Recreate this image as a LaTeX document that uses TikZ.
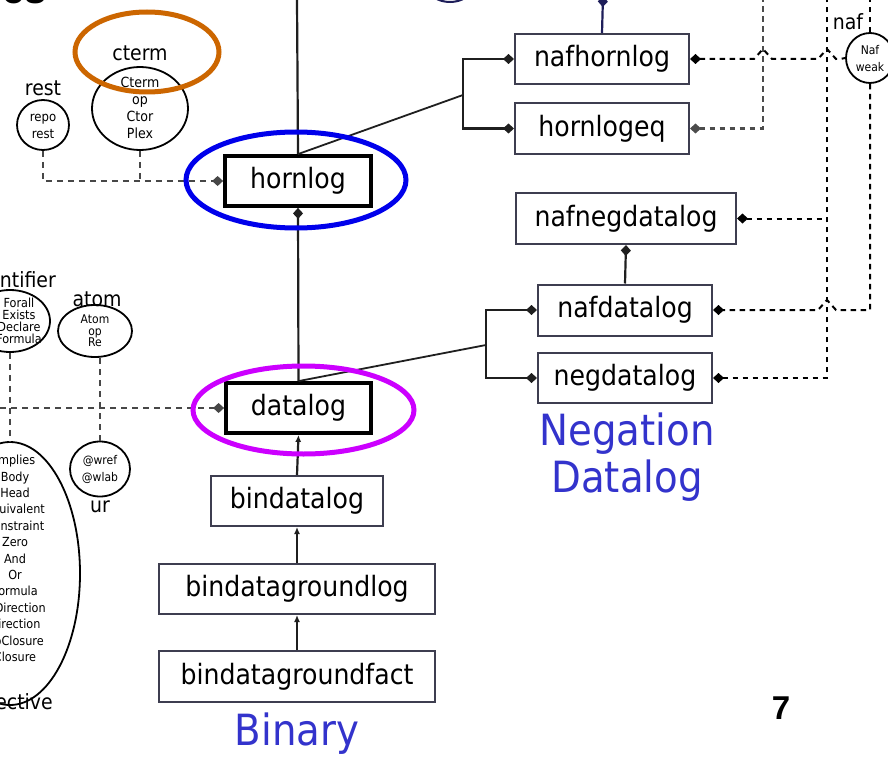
\documentclass[tikz,border=0pt]{standalone}
\usepackage{fontspec}
\setmainfont{DejaVu Sans}[FakeStretch=0.9]
\newfontfamily\headfont{Liberation Sans}
\usetikzlibrary{arrows.meta,shapes.geometric}

\definecolor{boxgray}{RGB}{62,62,80}
\definecolor{hlblue}{RGB}{0,0,235}
\definecolor{hlmagenta}{RGB}{204,0,255}
\definecolor{hlorange}{RGB}{204,102,0}
\definecolor{groupblue}{RGB}{51,51,204}
\definecolor{navy}{RGB}{30,30,90}

\tikzset{
  dia/.tip={Diamond[length=11pt,width=10pt]},
  cls/.style={rectangle, draw=boxgray, line width=2pt, fill=white, inner sep=0pt,
              minimum height=50pt, font=\fontsize{28}{30}\selectfont},
  keycls/.style={cls, draw=black, line width=3.8pt},
  bubble/.style={ellipse, draw=black, line width=1.8pt, inner sep=0pt},
  bubtext/.style={align=center, inner sep=0pt, font=\fontsize{13}{17}\selectfont},
  tag/.style={inner sep=0pt, font=\fontsize{21}{24}\selectfont},
  solidlink/.style={draw=black!88, line width=2.2pt},
  leftdash/.style={draw=black!72, line width=2.4pt, dash pattern=on 6pt off 5pt},
  rightdash/.style={draw=black, line width=2pt, dash pattern=on 5.5pt off 4.5pt},
  hl/.style={ellipse, draw, line width=5pt, inner sep=0pt},
  grouplabel/.style={text=groupblue, align=center, inner sep=0pt,
                     font=\fontsize{43}{47}\selectfont},
}

\begin{document}
\begin{tikzpicture}[x=1pt,y=-1pt]
\fill[white] (0,0) rectangle (888,757);
\useasboundingbox (0,0) rectangle (888,757);

% heading, cut by the page edge
\node[anchor=base east, inner sep=0pt, font=\headfont\bfseries\fontsize{40}{42}\selectfont] (title) at (47,4) {es};

% ---- class boxes ----
\node[cls, minimum width=174pt] (nafhornlog) at (602,59) {nafhornlog};
\node[cls, minimum width=174pt, minimum height=51pt] (hornlogeq) at (602,128.5) {hornlogeq};
\node[keycls, minimum width=146pt] (hornlog) at (298,181) {hornlog};
\node[cls, minimum width=220pt, minimum height=51pt] (nafnegdatalog) at (626,218.5) {nafnegdatalog};
\node[cls, minimum width=174pt, minimum height=51pt] (nafdatalog) at (625,310) {nafdatalog};
\node[cls, minimum width=174pt] (negdatalog) at (625,378) {negdatalog};
\node[keycls, minimum width=145pt] (datalog) at (298.5,408) {datalog};
\node[cls, minimum width=172pt] (bindatalog) at (297,501) {bindatalog};
\node[cls, minimum width=276pt] (bindatagroundlog) at (297,589) {bindatagroundlog};
\node[cls, minimum width=276pt, minimum height=51pt] (bindatagroundfact) at (297,676.5) {bindatagroundfact};

% ---- bubbles on the left ----
\node[bubble, minimum width=52pt, minimum height=50pt] (rest) at (43,125) {};
\node[bubtext] (resttext) at (43,126) {repo\\rest};
\node[tag] (restlabel) at (43,88) {rest};

\node[bubble, minimum width=96pt, minimum height=83pt] (cterm) at (140,108.5) {};
\node[bubtext, font=\fontsize{14}{17}\selectfont] (ctermtext) at (140,108) {Cterm\\op\\Ctor\\Plex};
\node[tag] (ctermlabel) at (140,53) {cterm};

\node[bubble, minimum width=80pt, minimum height=62pt] (quant) at (10,321) {};
\node[bubtext, font=\fontsize{12.5}{12}\selectfont] (quanttext) at (19,321) {Forall\\Exists\\Declare\\Formula};
\node[tag, anchor=east] (quantlabel) at (56,281) {Quantifier};

\node[bubble, minimum width=74pt, minimum height=52pt] (atom) at (95,331) {};
\node[bubtext, font=\fontsize{12}{11.5}\selectfont] (atomtext) at (95,331) {Atom\\op\\Re};
\node[tag] (atomlabel) at (97,299) {atom};

\node[bubble, minimum width=60pt, minimum height=55pt] (uri) at (100,469) {};
\node[bubtext, font=\fontsize{12}{17}\selectfont] (uritext) at (100,469) {@wref\\@wlab};
\node[tag] (urilabel) at (100,507) {ur};

\node[bubble, minimum width=140pt, minimum height=263pt] (conn) at (10,573.5) {};
\node[bubtext, font=\fontsize{12.5}{16.4}\selectfont] (conntext) at (15,558.5)
  {Implies\\Body\\Head\\Equivalent\\Constraint\\Zero\\And\\Or\\Formula\\InDirection\\Direction\\NoClosure\\Closure};
\node[tag, anchor=east] (connlabel) at (53,702) {Connective};

% ---- bubble on the right ----
\node[bubble, minimum width=48pt, minimum height=50pt] (naf) at (870,58) {};
\node[bubtext, font=\fontsize{12}{17}\selectfont] (naftext) at (870,59) {Naf\\weak};
\node[tag] (naflabel) at (848,22) {naf};

% ---- partial shapes at the top edge ----
\node[ellipse, draw=navy, line width=2pt, minimum width=44pt, minimum height=30pt] (topell) at (450,-13) {};
\coordinate (topdia) at (603,-4);
\coordinate (ttop) at (297,0);
\coordinate (t1) at (763,0);
\coordinate (t2) at (827,0);
\coordinate (lft) at (0,408);
\coordinate (hb) at (463,95);
\coordinate (nb) at (486,345);

% ---- solid connectors ----
\draw[solidlink, draw=navy, {Diamond[length=11pt,width=10pt]}-] (topdia) -- (nafhornlog.north);
\draw[solidlink] (ttop) -- (hornlog.north);
\draw[solidlink, line width=1.8pt] (hornlog.north) -- (hb);
\draw[solidlink, dia-dia] (nafhornlog.west) -| (hb) |- (hornlogeq.west);
\draw[solidlink, dia-] (hornlog.south) -- (datalog.north);
\draw[solidlink, line width=1.8pt] (datalog.north) -- (nb);
\draw[solidlink, dia-dia] (nafdatalog.west) -| (nb) |- (negdatalog.west);
\draw[solidlink, -dia] (nafdatalog.north) -- (nafnegdatalog.south);
\draw[solidlink, -{Latex[length=7pt,width=6pt]}] (bindatalog.north) -- (datalog.south);
\draw[solidlink, -{Latex[length=7pt,width=6pt]}] (bindatagroundlog.north) -- (bindatalog.south);
\draw[solidlink, -{Latex[length=7pt,width=6pt]}] (bindatagroundfact.north) -- (bindatagroundlog.south);

% ---- dashed connectors, left ----
\draw[leftdash, -dia] (rest.south) |- (hornlog.west);
\draw[leftdash] (cterm.south) -- (cterm.south |- hornlog.west);
\draw[leftdash, -dia] (lft) -- (datalog.west);
\draw[leftdash] (quant.south) -- (conn.north);
\draw[leftdash] (uri.north) -- (uri.north |- atom.south);

% ---- dashed connectors, right ----
\draw[rightdash, draw=black!70, dia-] (hornlogeq.east) -| (t1);
\draw[rightdash, dia-] (nafhornlog.east) -- ([xshift=-9pt]t1 |- nafhornlog.east)
  -- ++(9,-10) -- ++(9,10) -- ([xshift=-9pt]t2 |- nafhornlog.east)
  -- ++(9,-10) -- ++(9,10) to[out=0,in=200] (naf.west);
\draw[rightdash] (naf.north) -- (naf.north |- t2);
\draw[rightdash, -dia] (naf.south) -- (naf.south |- nafdatalog.east)
  -- ([xshift=9pt]t2 |- nafdatalog.east) -- ++(-9,-10) -- ++(-9,10) -- (nafdatalog.east);
\draw[rightdash, dia-] (nafnegdatalog.east) -- (t2 |- nafnegdatalog.east);
\draw[rightdash, dia-] (negdatalog.east) -| (t2);

% ---- group labels ----
\node[grouplabel] (neglabel) at (627,457) {Negation\\Datalog};
\node[grouplabel] (binlabel) at (297,734) {Binary};
\node[inner sep=0pt, font=\headfont\bfseries\fontsize{33}{35}\selectfont] (pagenum) at (781,708) {7};

% ---- highlight rings ----
\node[hl, draw=hlorange, minimum width=144pt, minimum height=80pt] (ringcterm) at (147,52) {};
\node[hl, draw=hlblue, minimum width=220pt, minimum height=96pt] (ringhorn) at (296,180) {};
\node[hl, draw=hlmagenta, minimum width=221pt, minimum height=88pt] (ringdata) at (303.5,410) {};
\end{tikzpicture}
\end{document}
